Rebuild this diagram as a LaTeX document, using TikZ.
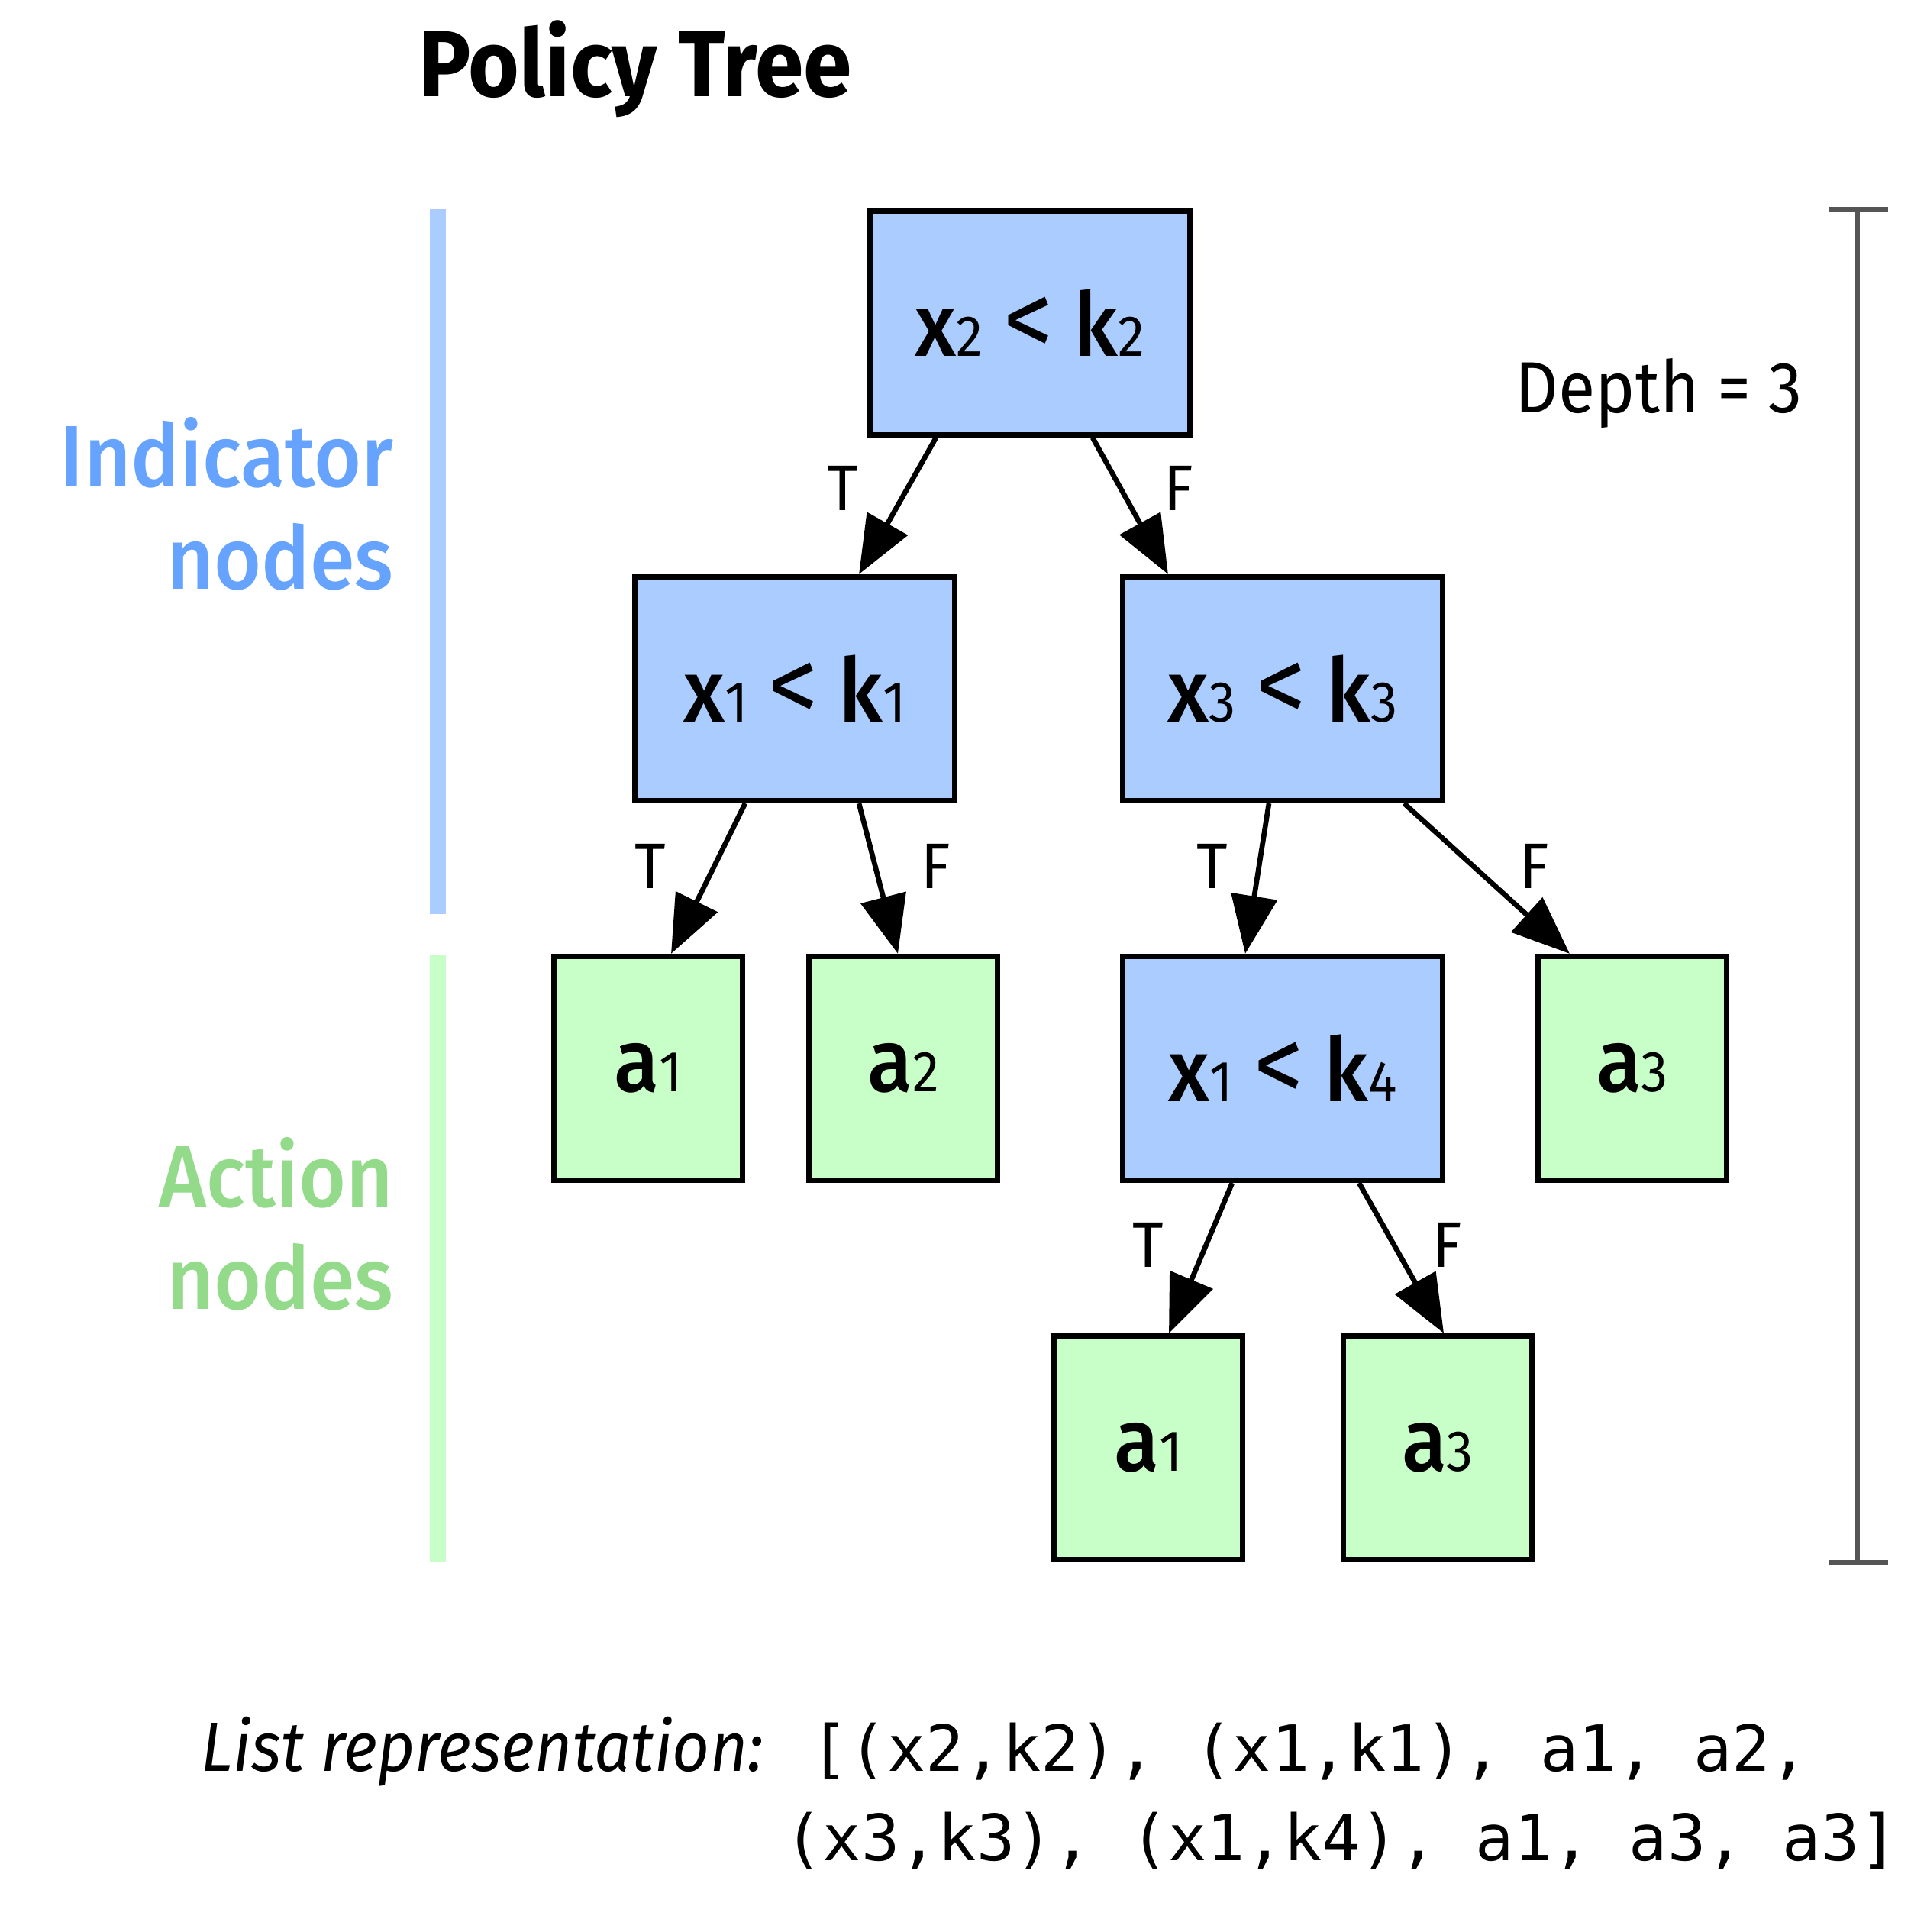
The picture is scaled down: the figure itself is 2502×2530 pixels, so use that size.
\documentclass[tikz,border=0pt]{standalone}
\usepackage{fontspec}
\setmainfont{Fira Sans}[FakeStretch=0.93]
\newfontfamily\medfont{Fira Sans Medium}[FakeStretch=0.93]
\newfontfamily\regfont{Fira Sans}[FakeStretch=0.93]
\setmonofont{DejaVu Sans Mono}
\usepackage{xcolor}
\usetikzlibrary{positioning,arrows.meta,calc}

\definecolor{indfill}{HTML}{AACCFF}
\definecolor{actfill}{HTML}{C8FFC8}
\definecolor{indtext}{HTML}{66A3FF}
\definecolor{acttext}{HTML}{93DB8A}
\definecolor{depthgray}{HTML}{555555}

\newcommand{\idx}[1]{{\regfont\fontsize{21.5}{21.5}\selectfont #1}}
\newcommand{\lt}{{\regfont\fontsize{40}{40}\selectfont <}}

\tikzset{
  indnode/.style={draw, line width=2pt, fill=indfill, minimum width=4.19cm,
    minimum height=2.93cm, inner sep=0pt, font=\medfont\fontsize{33}{33}\selectfont},
  actnode/.style={indnode, fill=actfill, minimum width=2.46cm},
  edge/.style={line width=1.9pt, -{Triangle[length=0.76cm,width=0.6cm]}},
  lbl/.style={inner sep=0pt, font=\fontsize{24}{24}\selectfont},
  side/.style={inner sep=0pt, align=right, anchor=base east,
    font=\medfont\fontsize{32.5}{38}\selectfont}
}

\begin{document}
\begin{tikzpicture}[x=0.01cm, y=-0.01cm]
\useasboundingbox (0,0) rectangle (2502,2530);

% Title
\node[inner sep=0pt, anchor=base, font=\bfseries\fontsize{35}{35}\selectfont] (title) at (832,126) {Policy Tree};

% Side bars
\fill[indfill] (563,274) rectangle (584,1197);
\fill[actfill] (563,1250) rectangle (584,2046);
\node[side, text=indtext] (indlbl) at (516,771) {Indicator\\nodes};
\node[side, text=acttext] (actlbl) at (516,1714) {Action\\nodes};

% Tree nodes
\node[indnode] (root) at (1349,423) {x\idx{2} \lt{} k\idx{2}};
\node[indnode] (left) at (1041,902) {x\idx{1} \lt{} k\idx{1}};
\node[indnode] (right) at (1680,902) {x\idx{3} \lt{} k\idx{3}};
\node[actnode] (aone) at (849,1399) {a\idx{1}};
\node[actnode] (atwo) at (1183,1399) {a\idx{2}};
\node[indnode] (mid) at (1680,1399) {x\idx{1} \lt{} k\idx{4}};
\node[actnode] (athree) at (2138,1399) {a\idx{3}};
\node[actnode] (bone) at (1504,1896) {a\idx{1}};
\node[actnode] (bthree) at (1883,1896) {a\idx{3}};

% Edges
\draw[edge] ([xshift=-1.23cm]root.south) -- ([xshift=0.84cm]left.north);
\draw[edge] ([xshift=0.82cm]root.south) -- ([xshift=-1.50cm]right.north);
\draw[edge] ([xshift=-0.65cm]left.south) -- ([xshift=0.30cm]aone.north);
\draw[edge] ([xshift=0.84cm]left.south) -- ([xshift=-0.07cm]atwo.north);
\draw[edge] ([xshift=-0.18cm]right.south) -- ([xshift=-0.49cm]mid.north);
\draw[edge] ([xshift=1.59cm]right.south) -- ([xshift=-0.82cm]athree.north);
\draw[edge] ([xshift=-0.66cm]mid.south) -- ([xshift=0.27cm]bone.north);
\draw[edge] ([xshift=1.00cm]mid.south) -- ([xshift=0.08cm]bthree.north);

% Edge labels
\node[lbl] (tone) at (1104,639) {T};
\node[lbl] (fone) at (1544,639) {F};
\node[lbl] (ttwo) at (852,1134) {T};
\node[lbl] (ftwo) at (1226,1134) {F};
\node[lbl] (tthree) at (1588,1134) {T};
\node[lbl] (fthree) at (2010,1134) {F};
\node[lbl] (tfour) at (1504,1630) {T};
\node[lbl] (ffour) at (1896,1630) {F};

% Depth bracket
\coordinate (dtop) at (2433,274);
\coordinate (dbot) at (2433,2046);
\draw[depthgray, line width=1.7pt] ([xshift=-0.37cm]dtop) -- ([xshift=0.40cm]dtop)
  (dtop) -- (dbot) ([xshift=-0.37cm]dbot) -- ([xshift=0.40cm]dbot);
\node[inner sep=0pt, anchor=base, font=\fontsize{27}{27}\selectfont] (depth) at (2173,540) {Depth = 3};

% List representation
\node[inner sep=0pt, anchor=base west, font=\itshape\fontsize{26}{26}\selectfont] (listlbl) at (263,2319) {List representation:};
\node[inner sep=0pt, anchor=base west, font=\ttfamily\fontsize{23.75}{23.75}\selectfont] (listone) at (1061,2319) {[(x2,k2), (x1,k1), a1, a2,};
\node[inner sep=0pt, anchor=base west, font=\ttfamily\fontsize{23.75}{23.75}\selectfont] (listtwo) at (1027,2436) {(x3,k3), (x1,k4), a1, a3, a3]};
\end{tikzpicture}
\end{document}
